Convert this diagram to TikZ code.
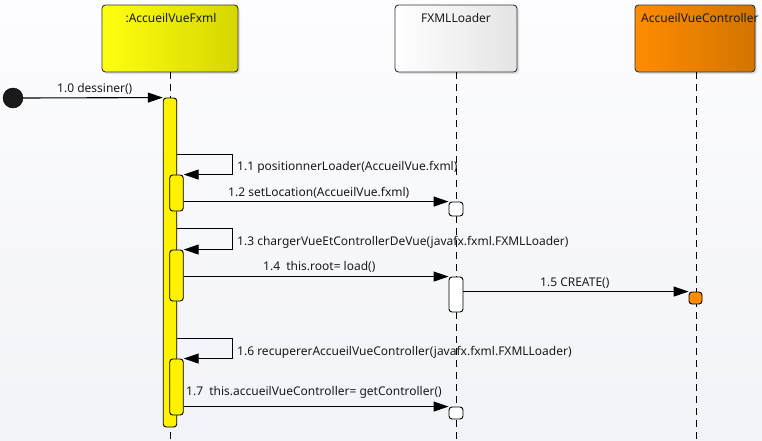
\documentclass[tikz,border=0pt]{standalone}
\usepackage{fontspec}
\setmainfont{Noto Sans}
\usetikzlibrary{arrows.meta,shadows,calc}

\definecolor{bgtop}{HTML}{FDFDFF}
\definecolor{bgbot}{HTML}{F2F3F8}
\definecolor{yelL}{HTML}{FFFF10}
\definecolor{yelR}{HTML}{D6D600}
\definecolor{whtR}{HTML}{E4E4E4}
\definecolor{orgL}{HTML}{FF8C00}
\definecolor{orgR}{HTML}{D27400}
\definecolor{edge}{HTML}{333333}
\definecolor{ink}{HTML}{1A1A1A}

\tikzset{
  head/.style={draw=edge, line width=0.9pt, rounded corners=3.5pt, inner sep=0pt,
    drop shadow={shadow xshift=2pt, shadow yshift=-2pt, opacity=0.22}},
  title/.style={anchor=base, inner sep=0pt, text=ink},
  lifeline/.style={draw=black, line width=1pt, dash pattern=on 7pt off 5pt},
  actbar/.style={draw=black, line width=0.9pt, rounded corners=3pt, inner sep=0pt,
    minimum width=13.5pt},
  msg/.style={draw=black, line width=1.1pt, -{Triangle[length=15pt,width=10pt]}},
  lbl/.style={anchor=base west, inner sep=0pt, text=ink},
}

\begin{document}
\begin{tikzpicture}[x=1pt, y=-1pt, font=\fontsize{12}{14}\selectfont]
  % canvas
  \shade[top color=bgtop, bottom color=bgbot] (0,0) rectangle (762,440);
  \useasboundingbox (0,0) rectangle (762,440);

  % lifeline heads (the controller title runs past its box edge)
  \node[head, left color=yelL, right color=yelR, minimum width=136pt, minimum height=67pt]
    (headA) at (170,38.5) {};
  \node[head, left color=white, right color=whtR, minimum width=122pt, minimum height=67pt]
    (headB) at (456,38.5) {};
  \node[head, left color=orgL, right color=orgR, minimum width=120pt, minimum height=67pt]
    (headC) at (695,38.5) {};
  \node[title] (tA) at (171,22) {:AccueilVueFxml};
  \node[title] (tB) at (456,22) {FXMLLoader};
  \node[lbl] (tC) at (641,22) {AccueilVueController};

  % dashed lifelines
  \coordinate (endA) at (170,440);
  \coordinate (endB) at (456,440);
  \coordinate (endC) at (696,440);
  \draw[lifeline] (headA.south) -- (endA);
  \draw[lifeline] (headB.south) -- (endB);
  \draw[lifeline] (headC.south -| endC) -- (endC);

  % activation bars
  \node[actbar, fill=yellow, minimum height=329pt] (mainAct) at (170,262.5) {};
  \node[actbar, fill=yellow, minimum height=36pt] (n1) at (176.5,193) {};
  \node[actbar, fill=yellow, minimum height=51pt] (n2) at (176.5,275.5) {};
  \node[actbar, fill=yellow, minimum height=56pt] (n3) at (176.5,387) {};
  \node[actbar, fill=white, minimum width=14pt, minimum height=14pt] (fb1) at (456,209) {};
  \node[actbar, fill=white, minimum width=14pt, minimum height=35pt] (fb2) at (456,294.5) {};
  \node[actbar, fill=white, minimum width=14pt, minimum height=12pt] (fb3) at (456,413) {};
  \node[actbar, fill=orgL, minimum width=13pt, minimum height=12pt] (oc1) at (695.5,298) {};

  % initial call
  \node[circle, draw=black, fill=ink, minimum size=20pt, inner sep=0pt] (start) at (13,98) {};
  \draw[msg] (start.east) -- (mainAct.north west);
  \node[lbl] (l0) at (57,92) {1.0 dessiner()};

  % 1.1 self call
  \draw[msg] ($(mainAct.east |- n1.north)+(0,-20)$) -| ($(n1.north east)+(49,0)$) -- (n1.north east);
  \node[lbl] (l1) at (237,170) {1.1 positionnerLoader(AccueilVue.fxml)};
  % 1.2
  \draw[msg] (n1.east |- fb1.north) -- (fb1.north west);
  \node[lbl] (l2) at (228,196) {1.2 setLocation(AccueilVue.fxml)};

  % 1.3 self call
  \draw[msg] ($(mainAct.east |- n2.north)+(0,-21)$) -| ($(n2.north east)+(49,0)$) -- (n2.north east);
  \node[lbl] (l3) at (237,245) {1.3 chargerVueEtControllerDeVue(javafx.fxml.FXMLLoader)};
  % 1.4
  \draw[msg] (n2.east |- fb2.north) -- (fb2.north west);
  \node[lbl] (l4) at (263,270) {1.4\ \ this.root= load()};
  % 1.5
  \draw[msg] (fb2.east |- oc1.north) -- (oc1.north west);
  \node[lbl] (l5) at (540,286) {1.5 CREATE()};

  % 1.6 self call
  \draw[msg] ($(mainAct.east |- n3.north)+(0,-20)$) -| ($(n3.north east)+(49,0)$) -- (n3.north east);
  \node[lbl] (l6) at (237,355) {1.6 recupererAccueilVueController(javafx.fxml.FXMLLoader)};
  % 1.7
  \draw[msg] (n3.east |- fb3.north) -- (fb3.north west);
  \node[lbl] (l7) at (186,395) {1.7\ \ this.accueilVueController= getController()};
\end{tikzpicture}
\end{document}
